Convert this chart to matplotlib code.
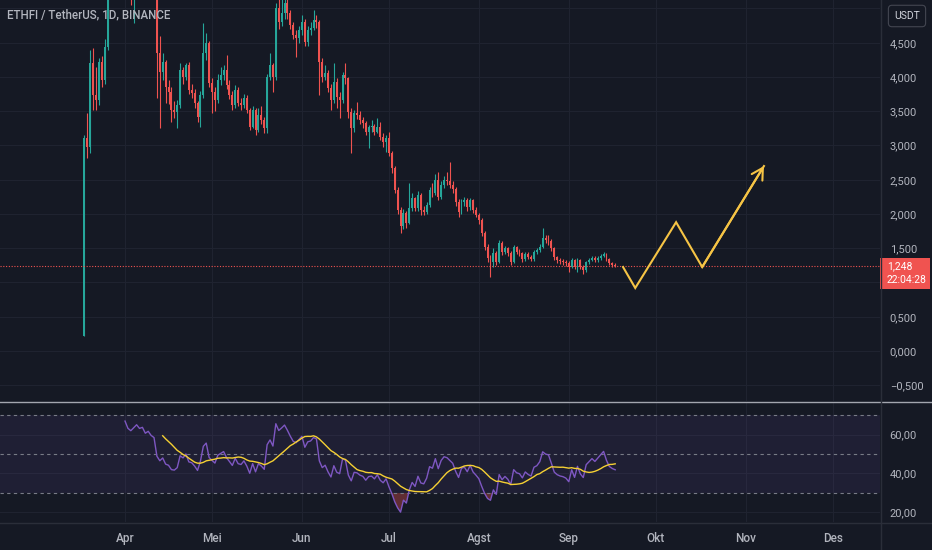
import matplotlib
matplotlib.use("Agg")
import matplotlib.pyplot as plt
import matplotlib.dates as mdates
import numpy as np
import pandas as pd
from matplotlib.lines import Line2D
from matplotlib.patches import Rectangle

plt.rcParams['font.family'] = ['Roboto', 'DejaVu Sans']

# ---- data (ETHFI/USDT daily) ----
start_day = '2024-03-18'
first_open = 0.22
closes = [
    3.11, 2.98, 4.20, 3.74, 3.66, 4.22, 3.96, 4.44, 5.60, 7.40,
    6.90, 6.50, 6.10, 6.40, 5.90, 5.45, 5.30, 5.60, 5.90, 5.70,
    5.80, 5.50, 5.65, 5.45, 5.35, 4.35, 4.07, 4.22, 3.85, 3.78,
    3.52, 3.49, 3.59, 4.10, 4.00, 4.17, 3.81, 3.77, 3.62, 3.42,
    3.74, 4.35, 4.50, 3.91, 3.78, 3.66, 3.96, 4.03, 4.10, 3.88,
    3.74, 3.59, 3.81, 3.62, 3.59, 3.69, 3.52, 3.27, 3.52, 3.23,
    3.45, 3.37, 3.26, 4.00, 4.18, 4.00, 5.01, 4.80, 4.93, 5.08,
    4.93, 4.76, 4.61, 4.57, 4.69, 4.80, 4.51, 4.69, 4.72, 4.83,
    4.80, 4.22, 4.00, 4.06, 3.84, 3.66, 3.93, 3.71, 3.66, 4.03,
    3.99, 3.49, 3.26, 3.47, 3.45, 3.37, 3.33, 3.20, 3.27, 3.28,
    3.20, 3.27, 3.12, 3.05, 3.11, 2.89, 2.67, 2.35, 2.06, 1.82,
    2.01, 1.87, 2.09, 2.23, 2.09, 2.28, 2.06, 2.03, 2.13, 2.35,
    2.31, 2.50, 2.25, 2.42, 2.50, 2.48, 2.42, 2.36, 2.18, 2.03,
    2.18, 2.20, 2.10, 2.20, 2.06, 1.99, 1.91, 1.72, 1.52, 1.36,
    1.30, 1.43, 1.30, 1.58, 1.45, 1.50, 1.43, 1.30, 1.52, 1.45,
    1.43, 1.34, 1.42, 1.37, 1.34, 1.45, 1.47, 1.52, 1.65, 1.62,
    1.61, 1.50, 1.37, 1.33, 1.31, 1.30, 1.28, 1.23, 1.33, 1.23,
    1.33, 1.23, 1.18, 1.30, 1.33, 1.36, 1.33, 1.36, 1.39, 1.42,
    1.34, 1.28, 1.26, 1.248]
highs = [
    3.15, 3.47, 4.39, 4.42, 4.15, 4.28, 4.30, 4.55, 6.00, 8.50,
    7.60, 7.10, 6.70, 6.60, 6.50, 6.00, 5.60, 5.75, 6.10, 6.00,
    6.05, 5.90, 5.80, 5.70, 5.60, 5.45, 4.60, 4.35, 4.25, 3.95,
    3.85, 3.65, 3.66, 4.20, 4.15, 4.20, 4.22, 3.90, 3.82, 3.65,
    3.80, 4.79, 4.64, 4.52, 3.98, 3.85, 4.05, 4.15, 4.18, 4.32,
    3.95, 3.80, 3.88, 3.85, 3.70, 3.75, 3.74, 3.55, 3.58, 3.55,
    3.55, 3.57, 3.42, 4.05, 4.35, 4.20, 5.08, 5.20, 5.20, 5.20,
    5.15, 4.98, 4.80, 4.68, 4.75, 4.90, 4.85, 4.75, 4.80, 4.98,
    4.90, 4.83, 4.28, 4.18, 4.10, 3.90, 4.20, 3.98, 3.78, 4.07,
    4.20, 4.00, 3.55, 3.52, 3.64, 3.50, 3.42, 3.36, 3.30, 3.37,
    3.32, 3.40, 3.35, 3.18, 3.15, 3.20, 2.92, 2.70, 2.40, 2.10,
    2.08, 2.05, 2.45, 2.30, 2.25, 2.33, 2.30, 2.12, 2.18, 2.40,
    2.45, 2.58, 2.62, 2.48, 2.55, 2.62, 2.76, 2.48, 2.40, 2.22,
    2.22, 2.25, 2.24, 2.23, 2.22, 2.10, 2.02, 1.94, 1.75, 1.56,
    1.40, 1.50, 1.46, 1.62, 1.60, 1.54, 1.52, 1.46, 1.55, 1.54,
    1.49, 1.45, 1.45, 1.44, 1.40, 1.48, 1.50, 1.56, 1.80, 1.70,
    1.69, 1.63, 1.52, 1.39, 1.36, 1.34, 1.33, 1.31, 1.36, 1.35,
    1.36, 1.35, 1.26, 1.32, 1.36, 1.39, 1.38, 1.39, 1.42, 1.45,
    1.43, 1.36, 1.30, 1.28]
lows = [
    0.22, 2.82, 2.89, 3.52, 3.52, 3.59, 3.85, 3.90, 4.40, 5.50,
    6.40, 6.10, 5.80, 5.90, 5.60, 5.20, 5.05, 4.79, 5.50, 5.45,
    5.50, 5.30, 5.35, 5.25, 5.15, 3.70, 3.26, 3.95, 3.62, 3.60,
    3.34, 3.40, 3.26, 3.55, 3.90, 3.95, 3.75, 3.70, 3.55, 3.35,
    3.27, 3.70, 4.25, 3.85, 3.47, 3.50, 3.62, 3.88, 3.95, 3.82,
    3.68, 3.52, 3.55, 3.57, 3.52, 3.55, 3.48, 3.22, 3.25, 3.15,
    3.20, 3.32, 3.18, 3.18, 3.95, 3.78, 3.95, 4.70, 4.75, 4.85,
    4.85, 4.70, 4.55, 4.29, 4.50, 4.62, 4.45, 4.45, 4.62, 4.68,
    4.72, 3.73, 3.92, 3.95, 3.78, 3.52, 3.62, 3.55, 3.40, 3.62,
    3.90, 3.40, 2.89, 3.20, 3.38, 3.32, 3.25, 3.15, 2.96, 3.20,
    3.15, 3.18, 3.08, 2.98, 2.90, 2.85, 2.60, 2.30, 2.00, 1.72,
    1.78, 1.80, 1.85, 2.05, 2.04, 2.05, 1.99, 1.98, 2.00, 2.10,
    2.25, 2.28, 2.20, 2.22, 2.38, 2.43, 2.38, 2.30, 2.12, 1.96,
    2.00, 2.12, 2.05, 2.06, 2.02, 1.95, 1.86, 1.68, 1.48, 1.30,
    1.08, 1.22, 1.25, 1.28, 1.40, 1.42, 1.38, 1.26, 1.28, 1.42,
    1.39, 1.30, 1.32, 1.34, 1.31, 1.32, 1.42, 1.44, 1.50, 1.58,
    1.55, 1.46, 1.33, 1.29, 1.27, 1.26, 1.24, 1.16, 1.21, 1.20,
    1.16, 1.20, 1.12, 1.16, 1.27, 1.31, 1.30, 1.30, 1.33, 1.37,
    1.31, 1.25, 1.23, 1.23]

# hand-drawn projection (zig-zag with arrow)
path_dates = ['2024-09-19 17:00', '2024-09-23 22:00', '2024-10-08 00:00',
              '2024-10-17 00:00', '2024-11-07 07:00']
path_prices = [1.226, 0.92, 1.88, 1.226, 2.70]

month_ticks = ['2024-04-01', '2024-05-01', '2024-06-01', '2024-07-01', '2024-08-01',
               '2024-09-01', '2024-10-01', '2024-11-01', '2024-12-01']
month_labels = ['Apr', 'Mei', 'Jun', 'Jul', 'Agst', 'Sep', 'Okt', 'Nov', 'Des']
price_ticks = [-0.5, 0.0, 0.5, 1.0, 1.5, 2.0, 2.5, 3.0, 3.5, 4.0, 4.5, 5.0]
rsi_ticks = [20, 40, 60]

# ---- styling ----
BG = '#151924'
GRID = '#1f2330'
TXT = '#b2b5be'
UP = '#26a69a'
DOWN = '#ef5350'
W, H = 932, 550

closes = np.array(closes)
opens = np.r_[first_open, closes[:-1]]
dates = mdates.date2num(pd.date_range(start_day, periods=len(closes), freq='D'))
x0 = mdates.date2num(pd.Timestamp(start_day))


def px_box(l, t, r, b):
    return [l / W, 1 - b / H, (r - l) / W, (b - t) / H]


fig = plt.figure(figsize=(W / 100, H / 100), dpi=100, facecolor=BG)
ax = fig.add_axes(px_box(0, 0, 880, 401), facecolor=BG)
ax2 = fig.add_axes(px_box(0, 402, 880, 522), facecolor=BG)

# candles
colors = np.where(closes >= opens, UP, DOWN)
ax.vlines(dates, lows, highs, colors=colors, lw=0.8)
ax.bar(dates, np.maximum(np.abs(closes - opens), 0.01), bottom=np.minimum(opens, closes),
       width=0.66, color=colors, linewidth=0)

# last price line
ax.axhline(closes[-1], color=DOWN, lw=0.8, ls=(0, (1, 1.5)))

# projection drawing
pd_num = mdates.date2num(pd.to_datetime(path_dates))
ax.plot(pd_num, path_prices, color='#f6c445', lw=1.5, solid_joinstyle='miter')
ax.annotate('', xy=(pd_num[-1], path_prices[-1]), xytext=(pd_num[-2], path_prices[-2]),
            arrowprops=dict(arrowstyle='->,head_length=0.8,head_width=0.45',
                            color='#f6c445', lw=1.5, shrinkA=0, shrinkB=0))

ax.set_xlim(x0 - 29.1, x0 + 274.3)
ax.set_ylim(-0.730, 5.124)
ax.set_yticks(price_ticks)
lab = []
for v in price_ticks:
    if v in (1.0, 5.0):
        lab.append('')
    else:
        lab.append(('%.3f' % v).replace('.', ',').replace('-', '\u2212'))
ax.set_yticklabels(lab)

# RSI(14) + SMA(14), as in the chart indicator
n = 14
delta = np.diff(closes)
gain = np.clip(delta, 0, None)
loss = np.clip(-delta, 0, None)
rsi = np.full(len(closes), np.nan)
ag = gain[:n].mean()
al = loss[:n].mean()
rsi[n] = 100 - 100 / (1 + ag / al)
for k in range(n + 1, len(closes)):
    ag = (ag * (n - 1) + gain[k - 1]) / n
    al = (al * (n - 1) + loss[k - 1]) / n
    rsi[k] = 100 - 100 / (1 + ag / al)
rsi_ma = pd.Series(rsi).rolling(n).mean().values

ax2.axhspan(30, 70, color='#7e57c2', alpha=0.1, lw=0)
for lvl in (70, 50, 30):
    ax2.axhline(lvl, color='#787b86', lw=0.8, ls=(0, (3, 3)))
ax2.fill_between(dates, rsi, 30, where=rsi < 30, interpolate=True,
                 color=DOWN, alpha=0.35, lw=0)
ax2.plot(dates, rsi, color='#7e57c2', lw=1)
ax2.plot(dates, rsi_ma, color='#f5d033', lw=1)
ax2.set_xlim(ax.get_xlim())
ax2.set_ylim(15.1, 76.7)
ax2.set_yticks(rsi_ticks)
ax2.set_yticklabels(['%d,00' % v for v in rsi_ticks])

mt = mdates.date2num(pd.to_datetime(month_ticks))
for a in (ax, ax2):
    a.set_xticks(mt)
    a.grid(True, color=GRID, lw=0.8)
    a.set_axisbelow(True)
    a.yaxis.tick_right()
    a.tick_params(length=0, labelsize=8, labelcolor=TXT, pad=7)
    for s in a.spines.values():
        s.set_visible(False)
ax.set_xticklabels([])
ax2.set_xticklabels(month_labels)
ax2.tick_params(axis='x', pad=7, labelsize=8.5)
for t in ax2.get_xticklabels():
    t.set_fontweight('medium')

# pane separators
fig.add_artist(Line2D([0, 1], [1 - 401.5 / H] * 2, transform=fig.transFigure, color='#a3a6af', lw=1))
fig.add_artist(Line2D([0, 1], [1 - 522.5 / H] * 2, transform=fig.transFigure, color='#2a2e39', lw=1))
fig.add_artist(Line2D([880.5 / W] * 2, [0, 1], transform=fig.transFigure, color='#2a2e39', lw=1))

# title and scale widgets
fig.text(7 / W, 1 - 15 / H, 'ETHFI / TetherUS, 1D, BINANCE', color=TXT, fontsize=8.3,
         fontweight='medium', va='center')
fig.text(907 / W, 1 - 16 / H, 'USDT', color='#d1d4dc', fontsize=7.5, ha='center', va='center',
         bbox=dict(boxstyle='round,pad=0.55,rounding_size=0.35', fc=BG, ec='#434651', lw=0.8))
fig.add_artist(Rectangle((880 / W, 1 - 289 / H), 50 / W, 31 / H, transform=fig.transFigure,
                         facecolor='#f05350', edgecolor='none'))
fig.text(887 / W, 1 - 266 / H, ('%.3f' % closes[-1]).replace('.', ','), color='white',
         fontsize=7.5, va='center')
fig.text(887 / W, 1 - 280 / H, '22:04:28', color='white', fontsize=7.5, va='center')

fig.savefig('out.png', dpi=100, facecolor=BG)
